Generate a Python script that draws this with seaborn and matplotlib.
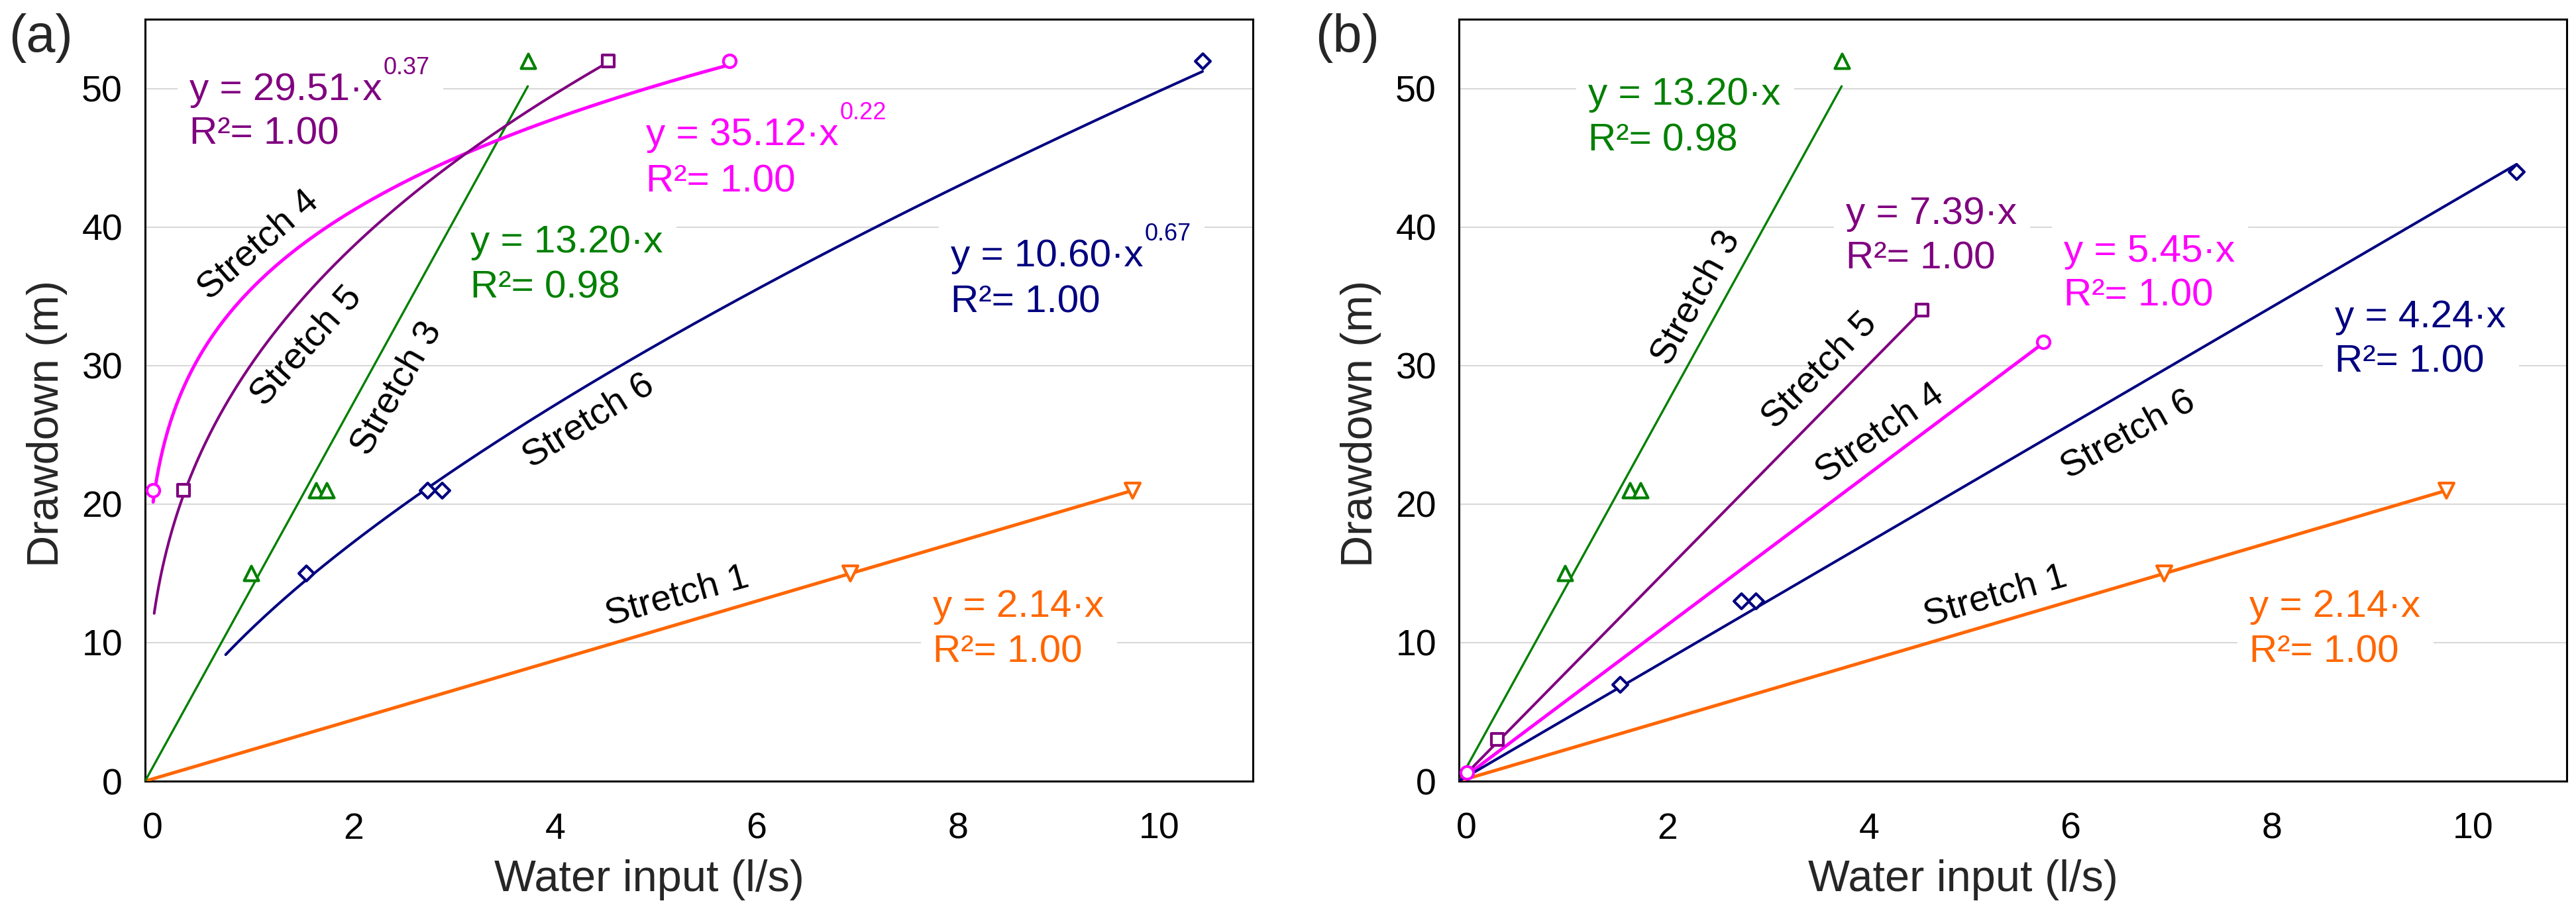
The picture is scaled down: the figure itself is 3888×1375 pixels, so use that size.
import numpy as np
import matplotlib
matplotlib.use("Agg")
import matplotlib.pyplot as plt
import seaborn as sns
from matplotlib.patches import Rectangle
from matplotlib.transforms import ScaledTranslation, IdentityTransform, Bbox

# ---------------- data ----------------
stretch_names = ["Stretch 1", "Stretch 3", "Stretch 4", "Stretch 5", "Stretch 6"]

s1_x = [7.0, 9.8]
s1_y_a = [15, 21]
s1_y_b = [15, 21]

s3_x = [1.05, 1.7, 1.8, 3.8]
s3_y_a = [15, 21, 21, 52]
s3_y_b = [15, 21, 21, 52]

s4_x = [0.08, 5.8]
s4_y_a = [21, 52]
s4_y_b = [0.6, 31.7]

s5_x = [0.38, 4.6]
s5_y_a = [21, 52]
s5_y_b = [3.0, 34.0]

s6_x = [1.6, 2.8, 2.95, 10.5]
s6_y_a = [15, 21, 21, 52]
s6_y_b = [7, 13, 13, 44]

# trendlines (a): y = coef * x^exp ; (b): y = coef * x
fit_a_coef = [2.14, 13.20, 35.12, 29.51, 10.60]
fit_a_exp = [1.0, 1.0, 0.22, 0.37, 0.67]
fit_a_r2 = [1.00, 0.98, 1.00, 1.00, 1.00]
fit_a_xrange = [(0.0, 9.8), (0.0, 3.8), (0.08, 5.8), (0.09, 4.6), (0.8, 10.5)]

fit_b_coef = [2.14, 13.20, 5.45, 7.39, 4.24]
fit_b_r2 = [1.00, 0.98, 1.00, 1.00, 1.00]
fit_b_xrange = [(0.0, 9.8), (0.0, 3.8), (0.0, 5.8), (0.0, 4.6), (0.0, 10.5)]

x_ticks = [0, 2, 4, 6, 8, 10]
y_ticks = [0, 10, 20, 30, 40, 50]

# ---------------- style ----------------
colors = ["#FF6600", "#008000", "#FF00FF", "#800080", "#000080"]
markers = ["v", "^", "o", "s", "D"]
msizes = [270, 250, 190, 165, 135]
line_w = [3.6, 2.4, 3.6, 2.9, 2.9]

sns.set_style("white")
plt.rcParams["font.family"] = ["Liberation Sans", "DejaVu Sans"]

W, H = 3888, 1375
fig = plt.figure(figsize=(W / 100, H / 100), dpi=100, facecolor="white")

boxA = (219, 29, 1891, 1179)   # left, top, right, bottom (px)
boxB = (2202, 29, 3874, 1179)


def make_ax(box):
    l, t, r, b = box
    return fig.add_axes([l / W, 1 - b / H, (r - l) / W, (b - t) / H])


def frac(box, xp, yp):
    l, t, r, b = box
    return (xp - l) / (r - l), (b - yp) / (b - t)


axA = make_ax(boxA)
axB = make_ax(boxB)

xs_all = [s1_x, s3_x, s4_x, s5_x, s6_x]
ys_a = [s1_y_a, s3_y_a, s4_y_a, s5_y_a, s6_y_a]
ys_b = [s1_y_b, s3_y_b, s4_y_b, s5_y_b, s6_y_b]


def style_axes(ax, box):
    ax.set_xlim(0, 11)
    ax.set_ylim(0, 55)
    ax.set_xticks(x_ticks)
    ax.set_yticks(y_ticks)
    ax.set_axisbelow(True)
    ax.yaxis.grid(True, color="#d9d9d9", linewidth=1.5)
    ax.xaxis.grid(False)
    for sp in ax.spines.values():
        sp.set_visible(True)
        sp.set_color("black")
        sp.set_linewidth(2.2)
    ax.tick_params(axis="both", direction="out", length=11.5, width=1.6,
                   color="black", labelsize=40, labelcolor="black")
    ax.tick_params(axis="x", pad=22)
    ax.tick_params(axis="y", pad=13)
    for lab in ax.get_xticklabels():
        lab.set_transform(lab.get_transform() + ScaledTranslation(0.11, 0, fig.dpi_scale_trans))
    ax.set_xlabel("Water input (l/s)", fontsize=48)
    ax.xaxis.set_label_coords(0.455, (1179 - 1345) / 1150)
    ax.xaxis.label.set_verticalalignment("baseline")
    ax.xaxis.label.set_horizontalalignment("center")
    ax.set_ylabel("Drawdown (m)", fontsize=48)
    ax.yaxis.set_label_coords(-0.0888, 0.469)
    ax.yaxis.label.set_verticalalignment("center")
    ax.yaxis.label.set_horizontalalignment("center")


# ---- panel (a) ----
for i in range(5):
    x0, x1 = fit_a_xrange[i]
    xx = np.linspace(x0, x1, 300)
    yy = fit_a_coef[i] * np.power(xx, fit_a_exp[i])
    sns.lineplot(x=xx, y=yy, ax=axA, color=colors[i], linewidth=line_w[i],
                 sort=False, estimator=None, zorder=3)
    sns.scatterplot(x=xs_all[i], y=ys_a[i], ax=axA, marker=markers[i], s=msizes[i],
                    color="white", edgecolor=colors[i], linewidth=3.0, zorder=4,
                    legend=False)

# ---- panel (b) ----
for i in range(5):
    x0, x1 = fit_b_xrange[i]
    xx = np.linspace(x0, x1, 50)
    yy = fit_b_coef[i] * xx
    sns.lineplot(x=xx, y=yy, ax=axB, color=colors[i], linewidth=line_w[i],
                 sort=False, estimator=None, zorder=3)
    sns.scatterplot(x=xs_all[i], y=ys_b[i], ax=axB, marker=markers[i], s=msizes[i],
                    color="white", edgecolor=colors[i], linewidth=3.0, zorder=4,
                    legend=False)

style_axes(axA, boxA)
style_axes(axB, boxB)

# ---------------- equation labels ----------------
def fmt_eq(coef, exp):
    return f"y = {coef:.2f}\u00b7x", (None if exp == 1.0 else f"{exp:.2f}")


# (left px, baseline px of first line, baseline px of second line)
eq_pos_a = [(1408, 931, 999), (710, 381, 450), (975, 219, 289), (286, 151, 218), (1435, 402, 471)]
eq_pos_b = [(3395, 931, 999), (2397, 158, 227), (3115, 395, 462), (2786, 338, 406), (3524, 494, 562)]

groups = {axA: [], axB: []}


def add_eq(ax, box, pos, coef, exp, r2, color):
    xl, yb1, yb2 = pos
    main, sup = fmt_eq(coef, exp)
    fx, fy = frac(box, xl, yb1)
    t1 = ax.text(fx, fy, main, transform=ax.transAxes, fontsize=42, color=color,
                 ha="left", va="baseline", zorder=5)
    grp = [t1]
    if sup is not None:
        t_sup = ax.annotate(sup, xy=(1, 0), xycoords=t1, xytext=(1.5, 37),
                            textcoords="offset points", fontsize=26, color=color,
                            ha="left", va="baseline", zorder=5)
        grp.append(t_sup)
    fx, fy = frac(box, xl, yb2)
    t2 = ax.text(fx, fy, f"R\u00b2= {r2:.2f}", transform=ax.transAxes, fontsize=42,
                 color=color, ha="left", va="baseline", zorder=5)
    grp.append(t2)
    groups[ax].append(grp)


for i in range(5):
    add_eq(axA, boxA, eq_pos_a[i], fit_a_coef[i], fit_a_exp[i], fit_a_r2[i], colors[i])
    add_eq(axB, boxB, eq_pos_b[i], fit_b_coef[i], 1.0, fit_b_r2[i], colors[i])

# ---------------- stretch labels ----------------
# (center px x, center px y, rotation deg)
stretch_pos_a = [(1022, 900, 15.5), (599, 587, 60), (390, 370, 41), (463, 523, 48), (889, 636, 32)]
stretch_pos_b = [(3012, 900, 16), (2560, 450, 61), (2838, 654, 35), (2747, 560, 45.5), (3212, 656, 29)]

for ax, box, plist in [(axA, boxA, stretch_pos_a), (axB, boxB, stretch_pos_b)]:
    for name, (cx, cy, rot) in zip(stretch_names, plist):
        fx, fy = frac(box, cx, cy)
        ax.text(fx, fy, name, transform=ax.transAxes, fontsize=40, color="black",
                rotation=rot, rotation_mode="anchor", ha="center", va="center", zorder=5)

# panel letters
fig.text(13 / W, 1 - 78 / H, "(a)", fontsize=57, ha="left", va="baseline")
fig.text(1985 / W, 1 - 78 / H, "(b)", fontsize=57, ha="left", va="baseline")

# ---------------- white label boxes (break gridlines) ----------------
fig.canvas.draw()
renderer = fig.canvas.get_renderer()
padl, padr, padt, padb = 18, 20, 14, 14
for ax, grps in groups.items():
    for grp in grps:
        bb = Bbox.union([t.get_window_extent(renderer) for t in grp])
        rect = Rectangle((bb.x0 - padl, bb.y0 - padb), bb.width + padl + padr,
                         bb.height + padb + padt, transform=IdentityTransform(),
                         facecolor="white", edgecolor="none", zorder=1.5)
        ax.add_patch(rect)

fig.savefig("out.png", dpi=100, facecolor="white")
